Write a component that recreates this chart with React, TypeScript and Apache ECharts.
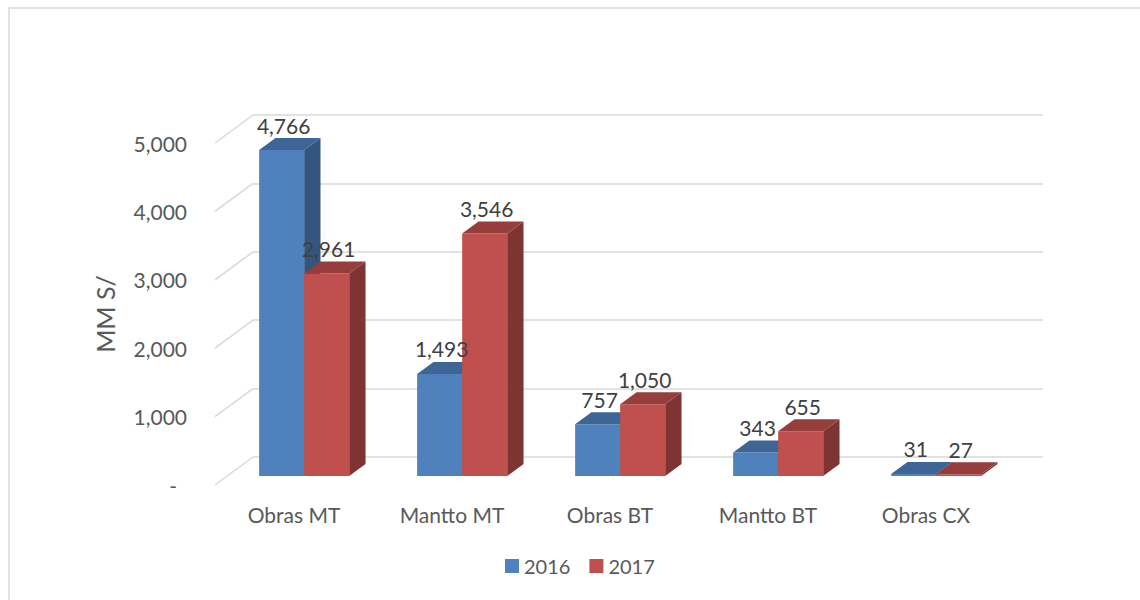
import React, { useEffect, useRef } from 'react';
import * as echarts from 'echarts';

const categories = ['Obras MT', 'Mantto MT', 'Obras BT', 'Mantto BT', 'Obras CX'];
const seriesNames = ['2016', '2017'];
const values2016 = [4766, 1493, 757, 343, 31];
const values2017 = [2961, 3546, 1050, 655, 27];
const yTicks = [0, 1000, 2000, 3000, 4000, 5000];
const yTitle = 'MM S/';

const COLORS = [
  { front: '#4F81BD', top: '#3D6595', side: '#34557E' },
  { front: '#C0504D', top: '#953E3B', side: '#7E3432' },
];
const FONT = 'Lato, "Open Sans", sans-serif';
const DEPTH = [-38, 28];
const FRONT_F = 0.68;
const BACK_F = 0.25;
const BAR_SHIFT = -2;
const GRID_COLOR = '#d9d9d9';

const fmt = (v: number) => v.toLocaleString('en-US');

function barSeries(idx: number) {
  const vals = idx === 0 ? values2016 : values2017;
  return {
    type: 'custom',
    name: seriesNames[idx],
    xAxisIndex: 0,
    yAxisIndex: 0,
    z: 2,
    itemStyle: { color: COLORS[idx].front },
    data: vals.map((v, i) => [i, v]),
    renderItem: (params: any, api: any) => {
      const cat = api.value(0);
      const val = api.value(1);
      const top = api.coord([cat, val]);
      const base = api.coord([cat, 0]);
      const band = api.size([1, 0])[0];
      const w = band * 0.285;
      const xl = (idx === 0 ? top[0] - w : top[0]) + BAR_SHIFT;
      const fx = DEPTH[0] * FRONT_F, fy = DEPTH[1] * FRONT_F;
      const bx = DEPTH[0] * BACK_F, by = DEPTH[1] * BACK_F;
      const c = COLORS[idx];
      const yT = top[1], y0 = base[1];
      return {
        type: 'group',
        children: [
          {
            type: 'polygon',
            shape: { points: [[xl + fx + w, yT + fy], [xl + bx + w, yT + by], [xl + bx + w, y0 + by], [xl + fx + w, y0 + fy]] },
            style: { fill: c.side },
          },
          {
            type: 'rect',
            shape: { x: xl + fx, y: yT + fy, width: w, height: y0 - yT },
            style: { fill: c.front },
          },
          {
            type: 'polygon',
            shape: { points: [[xl + fx, yT + fy], [xl + fx + w, yT + fy], [xl + bx + w, yT + by], [xl + bx, yT + by]] },
            style: { fill: c.top },
          },
          {
            type: 'text',
            z2: 100,
            style: {
              text: fmt(val),
              x: xl + fx + w / 2 + 2,
              y: yT + by - 13,
              fill: '#404040',
              fontSize: 21,
              fontFamily: FONT,
              align: 'center',
              verticalAlign: 'middle',
            },
          },
        ],
      };
    },
  };
}

export default function App() {
  const ref = useRef<HTMLDivElement>(null);
  useEffect(() => {
    if (!ref.current) return;
    const chart = echarts.init(ref.current, undefined, { renderer: 'svg' });
    const option: any = {
      animation: false,
      backgroundColor: '#ffffff',
      graphic: [
        {
          type: 'rect',
          shape: { x: 9, y: 8, width: 1300, height: 800 },
          style: { fill: 'none', stroke: GRID_COLOR, lineWidth: 1.5 },
          silent: true,
        },
      ],
      legend: {
        data: seriesNames,
        left: 505,
        top: 556,
        padding: 0,
        icon: 'rect',
        itemWidth: 14,
        itemHeight: 14,
        itemGap: 19,
        textStyle: { fontSize: 20, color: '#595959', fontFamily: FONT },
      },
      grid: [
        { left: 253, top: 115, width: 790, height: 342 },
        { left: 215, top: 143, width: 790, height: 342 },
      ],
      xAxis: [
        {
          gridIndex: 0, type: 'category', data: categories,
          axisLine: { show: false }, axisTick: { show: false }, axisLabel: { show: false }, splitLine: { show: false },
        },
        {
          gridIndex: 1, type: 'category', data: categories,
          axisLine: { show: false }, axisTick: { show: false }, splitLine: { show: false },
          axisLabel: { show: true, fontSize: 21, color: '#595959', fontFamily: FONT, margin: 19 },
        },
      ],
      yAxis: [
        {
          gridIndex: 0, type: 'value', min: 0, max: 5000, interval: 1000,
          axisLabel: { show: false }, axisLine: { show: false }, axisTick: { show: false },
          splitLine: { show: true, lineStyle: { color: GRID_COLOR, width: 1.5 } },
        },
        {
          gridIndex: 1, type: 'value', min: 0, max: 5000, interval: 1000,
          axisLine: { show: false }, axisTick: { show: false }, splitLine: { show: false },
          axisLabel: {
            fontSize: 21, color: '#595959', fontFamily: FONT, margin: 28,
            formatter: (v: number) => (v === 0 ? '{d|-}' : fmt(v)),
            rich: { d: { fontSize: 21, color: '#595959', fontFamily: FONT, padding: [0, 10, 0, 0] } },
          },
          name: yTitle,
          nameLocation: 'middle',
          nameRotate: 90,
          nameGap: 98,
          nameTextStyle: { fontSize: 25, color: '#595959', fontFamily: FONT },
        },
      ],
      series: [
        {
          type: 'custom',
          name: 'gridDiag',
          xAxisIndex: 0,
          yAxisIndex: 0,
          z: 1,
          silent: true,
          data: yTicks.map((v) => [0, v]),
          renderItem: (params: any, api: any) => {
            const cs = params.coordSys;
            const y = api.coord([0, api.value(1)])[1];
            return {
              type: 'line',
              shape: { x1: cs.x, y1: y, x2: cs.x + DEPTH[0], y2: y + DEPTH[1] },
              style: { stroke: GRID_COLOR, lineWidth: 1.5 },
            };
          },
        },
        barSeries(0),
        barSeries(1),
      ],
    };
    chart.setOption(option);
    return () => chart.dispose();
  }, []);
  return <div ref={ref} style={{ position: 'absolute', left: 0, top: 0, width: 1140, height: 600 }} />;
}
